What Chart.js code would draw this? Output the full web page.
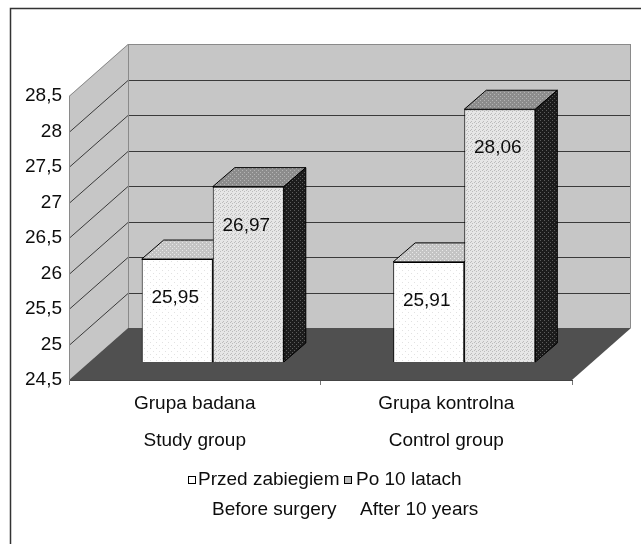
<!DOCTYPE html>
<html>
<head>
<meta charset="utf-8">
<script src="https://cdn.jsdelivr.net/npm/chart.js@4/dist/chart.umd.min.js"></script>
<style>
  html, body { margin: 0; padding: 0; background: #fff; }
  #wrap { width: 641px; height: 544px; }
</style>
</head>
<body>
<div id="wrap"><canvas id="c" width="641" height="544"></canvas></div>
<script>
// ---- data ----
const CATEGORIES = [['Grupa badana', 'Study group'], ['Grupa kontrolna', 'Control group']];
const SERIES_NAMES = ['Przed zabiegiem', 'Po 10 latach'];
const SERIES_NAMES_EN = ['Before surgery', 'After 10 years'];
const BEFORE = [25.95, 25.91];
const AFTER = [26.97, 28.06];
const Y_TICKS = [24.5, 25, 25.5, 26, 26.5, 27, 27.5, 28, 28.5];

// ---- style ----
const FONT = "'Liberation Sans', Arial, sans-serif";
const TEXT = '#0d0d0d';
const WALL = '#c6c6c6';
const FLOOR = '#505050';

// 3D offsets in pixels
const DEPTH = { x: 59, y: -52 };      // floor front edge -> back wall
const BAR_SHIFT = { x: 18, y: -18 };  // front plane of the columns
const BAR_DEPTH = { x: 22, y: -19 };  // column thickness

function pattern(size, base, dot, cells) {
  const c = document.createElement('canvas');
  c.width = size; c.height = size;
  const g = c.getContext('2d');
  g.fillStyle = base; g.fillRect(0, 0, size, size);
  g.fillStyle = dot;
  cells.forEach(([x, y]) => g.fillRect(x, y, 1, 1));
  return g.createPattern(c, 'repeat');
}

const FACES = [
  { // Przed zabiegiem
    front: pattern(6, '#ffffff', '#e2e2e2', [[0, 0], [3, 3]]),
    top: pattern(4, '#c4c4c4', '#e8e8e8', [[0, 0], [2, 2]]),
    side: pattern(4, '#bdbdbd', '#dddddd', [[1, 1]]),
    legend: '#ffffff'
  },
  { // Po 10 latach
    front: pattern(4, '#e6e6e6', '#bcbcbc', [[0, 0], [2, 1], [1, 3]]),
    top: pattern(4, '#8c8c8c', '#b4b4b4', [[0, 0], [2, 2]]),
    side: pattern(4, '#1c1c1c', '#5c5c5c', [[0, 0], [2, 2]]),
    legend: '#bcbcbc'
  }
];

function poly(ctx, pts, fill, stroke) {
  ctx.beginPath();
  ctx.moveTo(pts[0][0], pts[0][1]);
  for (let i = 1; i < pts.length; i++) ctx.lineTo(pts[i][0], pts[i][1]);
  ctx.closePath();
  if (fill) { ctx.fillStyle = fill; ctx.fill(); }
  if (stroke) { ctx.strokeStyle = stroke; ctx.lineWidth = 1; ctx.stroke(); }
}

function seg(ctx, x1, y1, x2, y2) {
  ctx.beginPath(); ctx.moveTo(x1, y1); ctx.lineTo(x2, y2); ctx.stroke();
}

const fmt = v => String(v).replace('.', ',');

// Walls, floor, column faces, value labels and the two-language legend
const scene = {
  id: 'scene',
  beforeDraw(chart) {
    const { ctx, chartArea: a } = chart;
    const ys = chart.scales.y;
    const dx = DEPTH.x, dy = DEPTH.y;
    ctx.save();
    ctx.fillStyle = '#fff';
    ctx.fillRect(0, 0, chart.width, chart.height);

    // frame
    ctx.strokeStyle = '#333'; ctx.lineWidth = 1.5;
    ctx.beginPath();
    ctx.moveTo(10.5, chart.height); ctx.lineTo(10.5, 8.5); ctx.lineTo(chart.width, 8.5);
    ctx.stroke();

    // back wall, side wall, floor
    poly(ctx, [[a.left + dx, a.top + dy], [a.right + dx, a.top + dy],
               [a.right + dx, a.bottom + dy], [a.left + dx, a.bottom + dy]], WALL);
    poly(ctx, [[a.left, a.top], [a.left + dx, a.top + dy],
               [a.left + dx, a.bottom + dy], [a.left, a.bottom]], WALL);
    poly(ctx, [[a.left, a.bottom], [a.right, a.bottom],
               [a.right + dx, a.bottom + dy], [a.left + dx, a.bottom + dy]], FLOOR);

    // gridlines on both walls
    ctx.lineWidth = 1;
    Y_TICKS.forEach(v => {
      if (v === ys.min) return;
      const py = Math.round(ys.getPixelForValue(v)) + 0.5;
      ctx.strokeStyle = v === ys.max ? '#8a8a8a' : '#3a3a3a';
      seg(ctx, a.left, py, a.left + dx, py + dy);
      seg(ctx, a.left + dx, py + dy, a.right + dx, py + dy);
    });

    // wall edges
    ctx.strokeStyle = '#8a8a8a';
    seg(ctx, a.left + dx + 0.5, a.top + dy, a.left + dx + 0.5, a.bottom + dy);
    seg(ctx, a.right + dx - 0.5, a.top + dy, a.right + dx - 0.5, a.bottom + dy);
    ctx.restore();
  },
  // tops and sides first; the library's front faces then cover whatever lies behind them
  beforeDatasetsDraw(chart) {
    const ctx = chart.ctx;
    ctx.save();
    ctx.translate(BAR_SHIFT.x, BAR_SHIFT.y);
    chart.data.datasets.forEach((ds, di) => {
      const faces = FACES[di];
      chart.getDatasetMeta(di).data.forEach(el => {
        const { x, y, base, width } = el.getProps(['x', 'y', 'base', 'width'], true);
        const l = x - width / 2, r = x + width / 2;
        const bx = BAR_DEPTH.x, by = BAR_DEPTH.y;
        poly(ctx, [[l, y], [l + bx, y + by], [r + bx, y + by], [r, y]], faces.top, '#000');
        poly(ctx, [[r, y], [r + bx, y + by], [r + bx, base + by], [r, base]], faces.side, '#000');
      });
    });
  },
  afterDatasetsDraw(chart) {
    const ctx = chart.ctx;
    ctx.fillStyle = TEXT;
    ctx.font = `19px ${FONT}`;
    ctx.textAlign = 'center';
    ctx.textBaseline = 'middle';
    chart.data.datasets.forEach((ds, di) => {
      chart.getDatasetMeta(di).data.forEach((el, i) => {
        const { x, y } = el.getProps(['x', 'y'], true);
        ctx.fillText(ds.data[i].toFixed(2).replace('.', ','), x - 2, y + 39);
      });
    });
    ctx.restore();
  },
  afterDraw(chart) {
    const ctx = chart.ctx;
    ctx.save();
    ctx.font = `19px ${FONT}`;
    ctx.textAlign = 'left';
    ctx.textBaseline = 'middle';
    const rows = [480, 510];
    const boxX = [188, 344];
    const nameX = [198, 356];
    const enX = [212, 360];
    FACES.forEach((f, i) => {
      ctx.fillStyle = f.legend;
      ctx.fillRect(boxX[i] + 0.5, rows[0] - 3.5, 7, 7);
      ctx.strokeStyle = '#000'; ctx.lineWidth = 1;
      ctx.strokeRect(boxX[i] + 0.5, rows[0] - 3.5, 7, 7);
      ctx.fillStyle = TEXT;
      ctx.fillText(SERIES_NAMES[i], nameX[i], rows[0]);
      ctx.fillText(SERIES_NAMES_EN[i], enX[i], rows[1]);
    });
    ctx.restore();
  }
};

new Chart(document.getElementById('c'), {
  type: 'bar',
  data: {
    labels: CATEGORIES,
    datasets: [
      { label: SERIES_NAMES[0], data: BEFORE, backgroundColor: FACES[0].front,
        borderColor: '#000', borderWidth: 1, base: Y_TICKS[0],
        categoryPercentage: 0.565, barPercentage: 1 },
      { label: SERIES_NAMES[1], data: AFTER, backgroundColor: FACES[1].front,
        borderColor: '#000', borderWidth: 1, base: Y_TICKS[0],
        categoryPercentage: 0.565, barPercentage: 1 }
    ]
  },
  options: {
    responsive: false,
    devicePixelRatio: 1,
    animation: false,
    events: [],
    layout: { padding: { top: 96, right: 69, left: 0, bottom: 0 } },
    plugins: { legend: { display: false }, tooltip: { enabled: false } },
    scales: {
      x: {
        grid: { display: true, drawOnChartArea: false, drawTicks: true, tickLength: 5, color: '#777', offset: true },
        border: { display: true, color: '#444' },
        ticks: { color: TEXT, font: { family: FONT, size: 19, lineHeight: 1.95 }, padding: 0, maxRotation: 0, autoSkip: false },
        afterFit(s) { s.height = 164; }
      },
      y: {
        min: Y_TICKS[0], max: Y_TICKS[Y_TICKS.length - 1],
        grid: { display: false, drawTicks: false },
        border: { display: true, color: '#8a8a8a' },
        afterBuildTicks(s) { s.ticks = Y_TICKS.map(v => ({ value: v })); },
        ticks: { color: TEXT, font: { family: FONT, size: 19 }, padding: 7, callback: v => fmt(v) },
        afterFit(s) { s.width = 69; }
      }
    }
  },
  plugins: [scene]
});
</script>
</body>
</html>
